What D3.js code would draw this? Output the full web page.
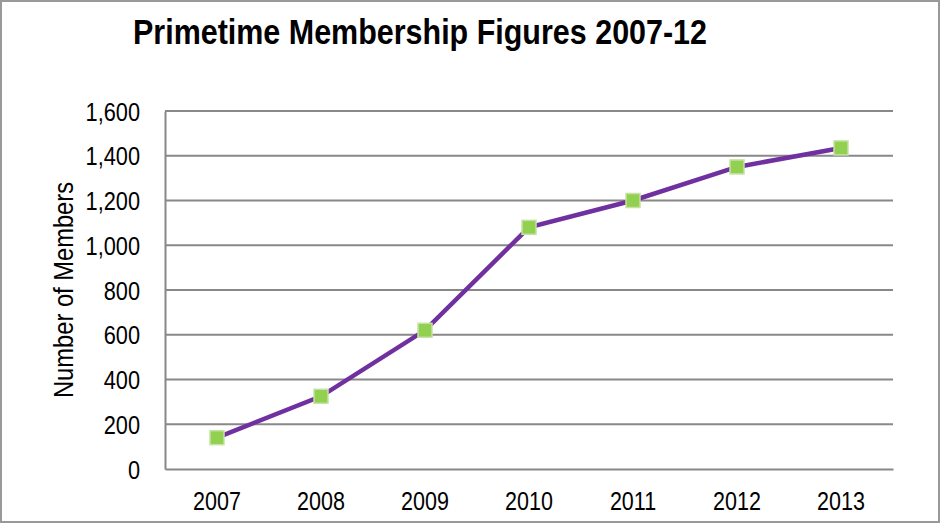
<!DOCTYPE html>
<html lang="en">
	<head>
		<meta charset="utf-8">
		<title>Primetime Membership Figures</title>
		<script type="text/javascript" src="https://cdn.jsdelivr.net/npm/d3@7"></script>
		<style type="text/css">
			body { margin: 0; background: #fff; }
			svg { display: block; }
			.narrow { font-family: "Liberation Sans", Arial, sans-serif; fill: #000; }
			.title { font-size: 35px; font-weight: bold; }
			.tick text { font-size: 25px; }
		</style>
	</head>
	<body>
		<script type="text/javascript">

			// data
			var years = ["2007", "2008", "2009", "2010", "2011", "2012", "2013"];
			var members = [140, 325, 620, 1080, 1200, 1350, 1435];
			var yTicks = [0, 200, 400, 600, 800, 1000, 1200, 1400, 1600];

			var w = 943;
			var h = 525;
			var margin = {top: 111, right: 50, bottom: 56, left: 165};

			// no narrow font installed, so squeeze the text instead
			function squeeze(sel, k) {
				sel.each(function() {
					var len = this.getComputedTextLength();
					d3.select(this)
						.attr("textLength", len * k)
						.attr("lengthAdjust", "spacingAndGlyphs");
				});
			}

			var svg = d3.select("body")
				.append("svg")
				.attr("width", w)
				.attr("height", h);

			// outer frame
			svg.append("rect")
				.attr("x", 1)
				.attr("y", 1)
				.attr("width", w - 5)
				.attr("height", h - 4)
				.attr("fill", "#fff")
				.attr("stroke", "#999")
				.attr("stroke-width", 2);

			var x = d3.scaleBand()
				.domain(years)
				.range([margin.left, w - margin.right]);

			var y = d3.scaleLinear()
				.domain([0, 1600])
				.range([h - margin.bottom, margin.top]);

			// gridlines
			svg.append("g")
				.selectAll("line")
				.data(yTicks.slice(1))
				.enter()
				.append("line")
				.attr("x1", margin.left)
				.attr("x2", w - margin.right)
				.attr("y1", function(d) { return y(d); })
				.attr("y2", function(d) { return y(d); })
				.attr("stroke", "#888")
				.attr("stroke-width", 2);

			// y axis
			var yAxis = svg.append("g")
				.attr("class", "narrow")
				.attr("transform", "translate(" + margin.left + ",0)")
				.call(d3.axisLeft(y).tickValues(yTicks).tickSize(0).tickPadding(25).tickFormat(d3.format(",")));
			yAxis.select(".domain").attr("stroke", "#888").attr("stroke-width", 2);
			yAxis.selectAll("text").attr("fill", "#000").attr("dy", "0.36em").call(squeeze, 0.87);

			// x axis
			var xAxis = svg.append("g")
				.attr("class", "narrow")
				.attr("transform", "translate(0," + (h - margin.bottom) + ")")
				.call(d3.axisBottom(x).tickSize(0).tickPadding(23));
			xAxis.select(".domain").attr("stroke", "#888").attr("stroke-width", 2);
			xAxis.selectAll("text").attr("fill", "#000").call(squeeze, 0.86);

			// line
			var line = d3.line()
				.x(function(d, i) { return x(years[i]) + x.bandwidth() / 2; })
				.y(function(d) { return y(d); });

			svg.append("path")
				.datum(members)
				.attr("d", line)
				.attr("fill", "none")
				.attr("stroke", "#7030a0")
				.attr("stroke-width", 4.5);

			// markers
			var size = 14;
			svg.selectAll("rect.marker")
				.data(members)
				.enter()
				.append("rect")
				.attr("class", "marker")
				.attr("x", function(d, i) { return x(years[i]) + x.bandwidth() / 2 - size / 2; })
				.attr("y", function(d) { return y(d) - size / 2; })
				.attr("width", size)
				.attr("height", size)
				.attr("fill", "#92d050")
				.attr("stroke", "#c6e2a4")
				.attr("stroke-width", 1.5);

			// title
			svg.append("text")
				.attr("class", "narrow title")
				.attr("x", 420)
				.attr("y", 44)
				.attr("text-anchor", "middle")
				.attr("textLength", 574)
				.attr("lengthAdjust", "spacingAndGlyphs")
				.text("Primetime Membership Figures 2007-12");

			// y axis label
			svg.append("text")
				.attr("class", "narrow")
				.attr("transform", "translate(73," + ((margin.top + h - margin.bottom) / 2) + ") rotate(-90)")
				.attr("text-anchor", "middle")
				.attr("font-size", "27px")
				.attr("textLength", 216)
				.attr("lengthAdjust", "spacingAndGlyphs")
				.text("Number of Members");

		</script>
	</body>
</html>
